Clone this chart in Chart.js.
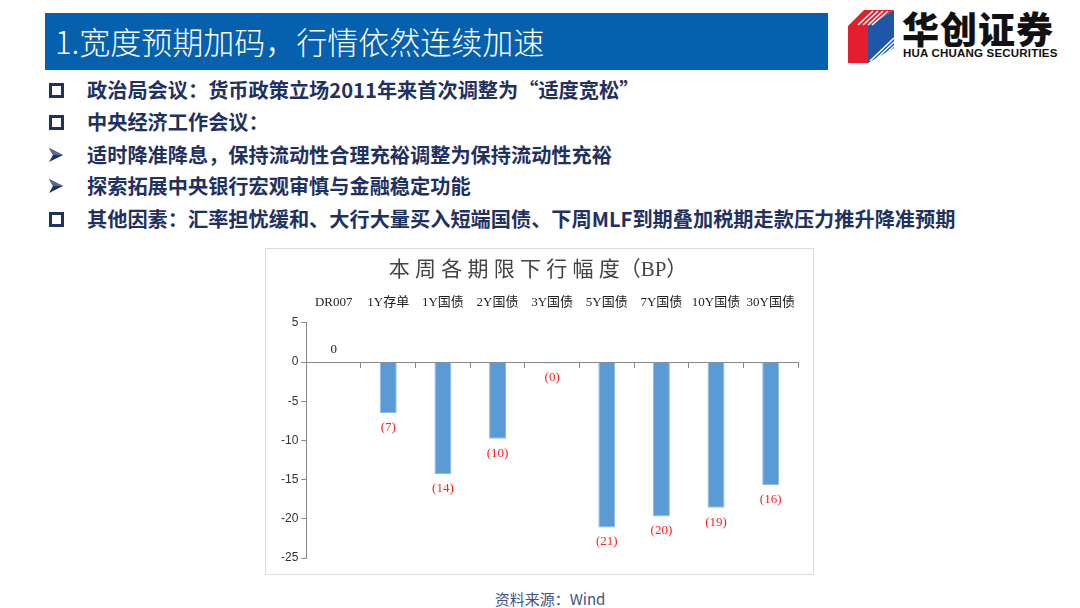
<!DOCTYPE html>
<html>
<head>
<meta charset="utf-8">
<script src="https://cdn.jsdelivr.net/npm/chart.js@4.4.0/dist/chart.umd.min.js"></script>
<style>
    body { margin: 0; width: 1080px; height: 608px; background: #fff; position: relative; overflow: hidden; font-family: "Noto Sans CJK SC", "Noto Sans", sans-serif; }
    #header { position: absolute; left: 45px; top: 13px; width: 783px; height: 57px; background: #0561ad; }
    #header span { position: absolute; left: 10px; top: 9px; color: #fff; font-size: 31px; line-height: 38px; font-weight: 300; }
    #logo { position: absolute; left: 846px; top: 8px; }
    .brand { position: absolute; left: 902px; top: 6px; font-size: 37px; font-weight: 900; color: #111; letter-spacing: 1px; line-height: 44px; }
    .brand2 { position: absolute; left: 903px; top: 47px; font-family: "Liberation Sans", sans-serif; font-size: 11.5px; font-weight: bold; color: #111; letter-spacing: 0.2px; }
    .linha { position: absolute; left: 87px; font-size: 20.2px; font-weight: bold; color: #1f3160; line-height: 26px; white-space: nowrap; }
    .quad { position: absolute; left: 49px; width: 9px; height: 9px; border: 3px solid #1f3160; }
    .seta { position: absolute; left: 48px; }
    #caixa { position: absolute; left: 265px; top: 248px; width: 547px; height: 325px; border: 1px solid #dcdcdc; }
    #fonte { position: absolute; left: 0; width: 1100px; top: 588px; text-align: center; font-size: 15px; color: #3b5487; }
</style>
</head>
<body>
<div id="header"><span>1.宽度预期加码，行情依然连续加速</span></div>

<svg id="logo" width="52" height="58" viewBox="0 0 52 58">
    <polygon points="2,18 22,18 22,55 2,55" fill="#e41e2b"/>
    <polygon points="2,18 18,2 48,2 22,18" fill="#e41e2b"/>
    <polygon points="22,18 48,2 48,40 22,55" fill="#1f57a8"/>
    <g stroke="#fff" stroke-width="1.6">
        <line x1="12" y1="17" x2="27" y2="3"/>
        <line x1="17" y1="17" x2="32" y2="3"/>
        <line x1="22" y1="17" x2="37" y2="3"/>
        <line x1="26" y1="17" x2="42" y2="3"/>
        <line x1="24" y1="53" x2="48" y2="30"/>
        <line x1="28" y1="53" x2="48" y2="34"/>
        <line x1="32" y1="53" x2="48" y2="38"/>
    </g>
</svg>
<div class="brand">华创证券</div>
<div class="brand2">HUA CHUANG SECURITIES</div>

<div class="quad" style="top:83px"></div>
<div class="linha" style="top:77px">政治局会议：货币政策立场2011年来首次调整为“适度宽松”</div>
<div class="quad" style="top:115px"></div>
<div class="linha" style="top:109px">中央经济工作会议：</div>
<svg class="seta" style="top:147px" width="16" height="16" viewBox="0 0 16 16"><polygon points="1,1 15,8 1,15 5,8" fill="#1f3160"/><polygon points="1,1 15,8 5,8" fill="#5a6a90"/></svg>
<div class="linha" style="top:142px">适时降准降息，保持流动性合理充裕调整为保持流动性充裕</div>
<svg class="seta" style="top:178px" width="16" height="16" viewBox="0 0 16 16"><polygon points="1,1 15,8 1,15 5,8" fill="#1f3160"/><polygon points="1,1 15,8 5,8" fill="#5a6a90"/></svg>
<div class="linha" style="top:173px">探索拓展中央银行宏观审慎与金融稳定功能</div>
<div class="quad" style="top:212px"></div>
<div class="linha" style="top:206px">其他因素：汇率担忧缓和、大行大量买入短端国债、下周MLF到期叠加税期走款压力推升降准预期</div>

<div id="caixa"><canvas id="grafico" width="547" height="325"></canvas></div>
<div id="fonte">资料来源：Wind</div>

<script>
const categorias = ["DR007", "1Y存单", "1Y国债", "2Y国债", "3Y国债", "5Y国债", "7Y国债", "10Y国债", "30Y国债"];
const valores = [0, -6.5, -14.3, -9.8, -0.2, -21.1, -19.7, -18.6, -15.7];
const ticksY = [5, 0, -5, -10, -15, -20, -25];

const serifa = "'Liberation Serif', 'Noto Sans CJK SC', serif";

// rotulos: "0" preto em cima, negativos em vermelho entre parenteses embaixo
const rotulos = {
    id: "rotulos",
    afterDatasetsDraw(chart) {
        const ctx = chart.ctx;
        const meta = chart.getDatasetMeta(0);
        ctx.save();
        ctx.font = "13px " + serifa;
        ctx.textAlign = "center";
        meta.data.forEach((barra, i) => {
            const v = valores[i];
            if (v >= 0) {
                ctx.fillStyle = "#222";
                ctx.textBaseline = "bottom";
                ctx.fillText(String(Math.round(v)), barra.x, barra.y - 6);
            } else {
                ctx.fillStyle = "#ff2020";
                ctx.textBaseline = "top";
                ctx.fillText("(" + Math.round(-v) + ")", barra.x, barra.y + 8);
            }
        });
        ctx.restore();
    }
};

new Chart(document.getElementById("grafico"), {
    type: "bar",
    data: {
        labels: categorias,
        datasets: [{
            data: valores,
            backgroundColor: "#5b9bd5",
            borderColor: "#8dbbe6",
            borderWidth: 1,
            barPercentage: 0.31,
            categoryPercentage: 1
        }]
    },
    options: {
        responsive: false,
        animation: false,
        layout: { padding: { left: 12, right: 15, top: 5, bottom: 16 } },
        plugins: {
            legend: { display: false },
            tooltip: { enabled: false },
            title: {
                display: true,
                text: "本 周 各 期 限 下 行 幅 度（BP）",
                color: "#444",
                font: { family: serifa, size: 21, weight: "normal" },
                padding: { top: 4, bottom: 8 }
            }
        },
        scales: {
            x: {
                position: { y: 0 },
                grid: { display: true, drawOnChartArea: false, drawTicks: true, tickLength: 5, color: "#888", offset: true },
                border: { color: "#888" },
                ticks: { display: false }
            },
            x2: {
                type: "category",
                labels: categorias,
                position: "top",
                offset: true,
                grid: { display: false },
                border: { display: false },
                ticks: { color: "#222", font: { family: serifa, size: 13 }, maxRotation: 0, autoSkip: false, padding: 4 }
            },
            y: {
                min: -25,
                max: 5,
                afterBuildTicks(scale) { scale.ticks = ticksY.map(v => ({ value: v })); },
                grid: { drawOnChartArea: false, drawTicks: true, tickLength: 5, color: "#888" },
                border: { color: "#888" },
                ticks: { color: "#333", font: { family: "'Liberation Sans', sans-serif", size: 12 }, padding: 3 }
            }
        }
    },
    plugins: [rotulos]
});
</script>
</body>
</html>
